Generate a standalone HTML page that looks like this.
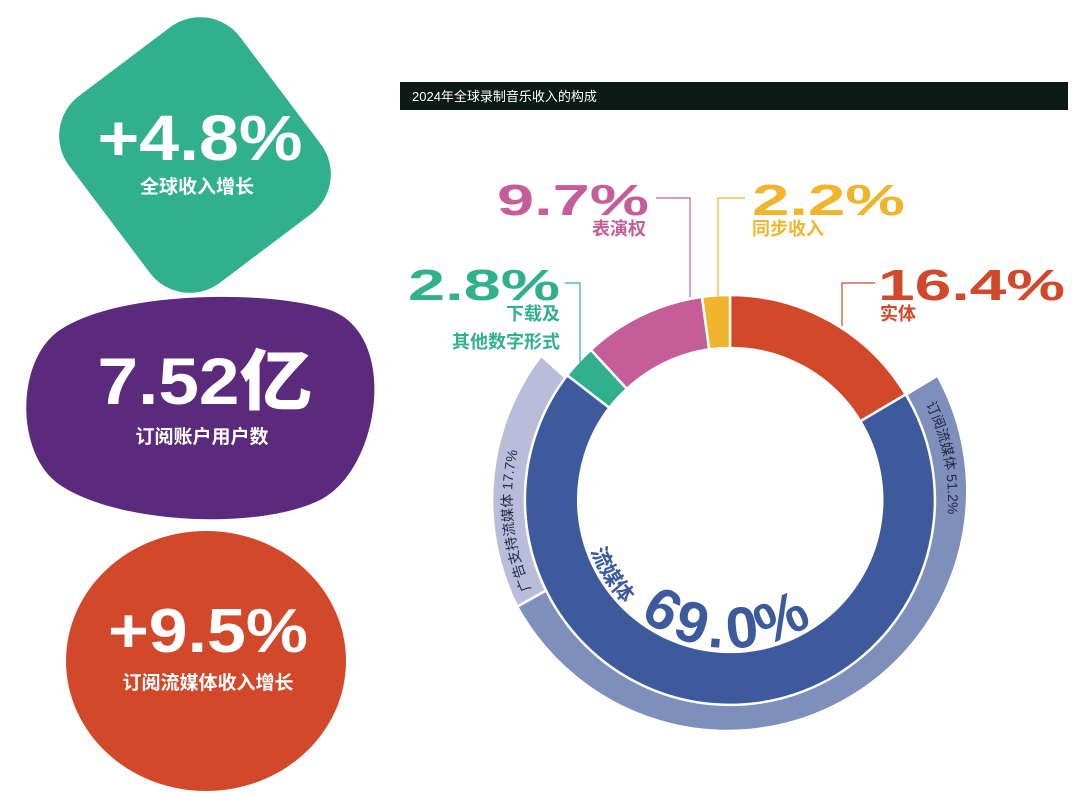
<!DOCTYPE html>
<html><head><meta charset="utf-8"><style>
html,body{margin:0;padding:0;background:#fff;}
svg{display:block;}
text{font-family:"Liberation Sans","Noto Sans CJK SC",sans-serif;}
</style></head><body>
<svg width="1080" height="794" viewBox="0 0 1080 794" xmlns="http://www.w3.org/2000/svg">
<defs>
<path id="outerp" d="M730,282 A218,218 0 1 1 730,718 A218,218 0 1 1 730,282"/>
<path id="botp" d="M582,500 A148,148 0 0 0 878,500"/>
</defs>
<!-- left shapes -->
<rect x="78" y="48" width="234" height="214" rx="50" fill="#30b08d" transform="rotate(53 195 155)"/>
<path d="M60,330 C120,290 270,290 330,310 C400,335 380,470 320,500 C260,530 120,525 60,485 C15,455 15,360 60,330 Z" fill="#5c2a7d"/>
<ellipse cx="206" cy="661" rx="140" ry="130" fill="#d1482b"/>
<g fill="#fff" font-weight="bold" text-anchor="middle">
<text x="200" y="160" font-size="64" font-weight="900" textLength="205" lengthAdjust="spacingAndGlyphs">+4.8%</text>
<text x="197" y="193" font-size="19">全球收入增长</text>
<text x="205" y="404" font-size="66" font-weight="900" textLength="215" lengthAdjust="spacingAndGlyphs">7.52亿</text>
<text x="202" y="443" font-size="19">订阅账户用户数</text>
<text x="208" y="652" font-size="62" font-weight="900" textLength="200" lengthAdjust="spacingAndGlyphs">+9.5%</text>
<text x="208" y="689" font-size="19">订阅流媒体收入增长</text>
</g>
<!-- title bar -->
<rect x="400" y="82" width="668" height="28" fill="#0c1a16"/>
<text x="412" y="101" font-size="13" fill="#fff">2024年全球录制音乐收入的构成</text>
<!-- outer ring -->
<g stroke="#fff" stroke-width="2.5">
<path d="M906.4,394.4 L937.6,375.6 A238,238 0 0 1 517.2,606.6 L546.6,590.1 A205,205 0 0 0 906.4,394.4 Z" fill="#7f8fbc"/>
<path d="M546.6,590.1 L517.2,606.6 A238,238 0 0 1 541.1,355.6 L565.8,378.1 A205,205 0 0 0 546.6,590.1 Z" fill="#b9bdd9"/>
</g>
<!-- inner ring -->
<g stroke="#fff" stroke-width="2.5">
<path d="M730,295 A205,205 0 0 1 905.7,394.4 L860.3,421.3 A152,152 0 0 0 730,348 Z" fill="#d1482b"/>
<path d="M905.7,394.4 A205,205 0 1 1 567.2,375.2 L609.3,407.8 A152,152 0 1 0 860.3,421.3 Z" fill="#3c5a9c"/>
<path d="M567.2,375.2 A205,205 0 0 1 590.9,349.8 L626.9,388.9 A152,152 0 0 0 609.3,407.8 Z" fill="#30b08d"/>
<path d="M590.9,349.8 A205,205 0 0 1 702.0,296.9 L709.2,349.4 A152,152 0 0 0 626.9,388.9 Z" fill="#c55e98"/>
<path d="M702.0,296.9 A205,205 0 0 1 730,295 L730,348 A152,152 0 0 0 709.2,349.4 Z" fill="#f0b52c"/>
</g>
<!-- ring text -->
<text font-size="14" fill="#1f2a4a"><textPath href="#outerp" startOffset="243">订阅流媒体  51.2%</textPath></text>
<text font-size="14" fill="#1f2a4a"><textPath href="#outerp" startOffset="935">广告支持流媒体  17.7%</textPath></text>
<text fill="#3c5a9c" font-weight="bold"><textPath href="#botp" startOffset="52"><tspan font-size="21">流媒体 </tspan><tspan font-size="58" font-weight="900" dx="14" letter-spacing="5">69.0%</tspan></textPath></text>
<!-- leaders -->
<g fill="none" stroke-width="1.2">
<polyline points="656,198 690,198 690,297" stroke="#c55e98"/>
<polyline points="745,198 718,198 718,297" stroke="#f0b52c"/>
<polyline points="875,283 842,283 842,326" stroke="#d1482b"/>
<polyline points="565,283 580,283 580,362" stroke="#30b08d"/>
</g>
<!-- labels -->
<g font-weight="900">
<text x="497" y="215" font-size="44" fill="#c55e98" textLength="152" lengthAdjust="spacingAndGlyphs">9.7%</text>
<text x="752" y="215" font-size="44" fill="#f0b52c" textLength="153" lengthAdjust="spacingAndGlyphs">2.2%</text>
<text x="878" y="300" font-size="44" fill="#d1482b" textLength="187" lengthAdjust="spacingAndGlyphs">16.4%</text>
<text x="408" y="300" font-size="44" fill="#30b08d" textLength="152" lengthAdjust="spacingAndGlyphs">2.8%</text>
</g>
<g font-weight="bold" font-size="18">
<text x="592" y="235" fill="#c55e98">表演权</text>
<text x="752" y="235" fill="#f0b52c">同步收入</text>
<text x="880" y="320" fill="#d1482b">实体</text>
<text x="560" y="320" fill="#30b08d" text-anchor="end">下载及</text>
<text x="560" y="348" fill="#30b08d" text-anchor="end">其他数字形式</text>
</g>
</svg>
</body></html>
